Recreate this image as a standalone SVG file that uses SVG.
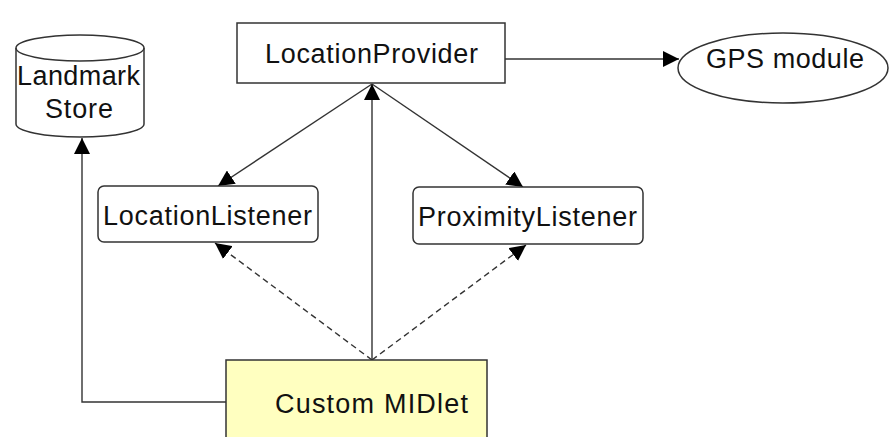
<svg xmlns="http://www.w3.org/2000/svg" width="890" height="437" viewBox="0 0 890 437">
<style>
.box{fill:#fff;stroke:#333;stroke-width:1.5}
.lbl{font-family:"Liberation Sans",Arial,sans-serif;font-size:27px;fill:#111;text-anchor:start}
.ln{fill:none;stroke:#333;stroke-width:1.4}
.dash{stroke-dasharray:6 4}
</style>
<defs>
<marker id="ah" markerUnits="userSpaceOnUse" markerWidth="17" markerHeight="16" refX="16" refY="8" orient="auto">
<path d="M0,0 L16,8 L0,16 Z" fill="#000"/>
</marker>
</defs>
<rect width="890" height="437" fill="#fff"/>
<g id="connectors">
<path class="ln" d="M505,59 H679" marker-end="url(#ah)"/>
<path class="ln" d="M372,84 L218,186" marker-end="url(#ah)"/>
<path class="ln" d="M372,84 L523,187" marker-end="url(#ah)"/>
<path class="ln" d="M372,360 V84" marker-end="url(#ah)"/>
<path class="ln dash" d="M372,360 L215,243" marker-end="url(#ah)"/>
<path class="ln dash" d="M372,360 L526,245" marker-end="url(#ah)"/>
<path class="ln" d="M226,402 H82 V138" marker-end="url(#ah)"/>
</g>
<g id="landmark-store">
<path class="box" d="M16,48 V124 A64,13 0 0 0 144,124 V48 A64,13 0 0 0 16,48 Z"/>
<path class="ln" d="M16,48 A64,13 0 0 0 144,48"/>
<text class="lbl" x="17" y="85" textLength="123" lengthAdjust="spacing">Landmark</text>
<text class="lbl" x="45" y="118" textLength="68" lengthAdjust="spacing">Store</text>
</g>
<g id="location-provider">
<rect class="box" x="237" y="23" width="268" height="60"/>
<text class="lbl" x="265" y="63" textLength="213" lengthAdjust="spacing">LocationProvider</text>
</g>
<g id="gps-module">
<ellipse class="box" cx="783" cy="68" rx="105" ry="35"/>
<text class="lbl" x="706" y="68" textLength="158" lengthAdjust="spacing">GPS module</text>
</g>
<g id="location-listener">
<rect class="box" x="98" y="186" width="220" height="56" rx="6"/>
<text class="lbl" x="103" y="225" textLength="209" lengthAdjust="spacing">LocationListener</text>
</g>
<g id="proximity-listener">
<rect class="box" x="413" y="187" width="230" height="57" rx="6"/>
<text class="lbl" x="418" y="226" textLength="219" lengthAdjust="spacing">ProximityListener</text>
</g>
<g id="custom-midlet">
<rect x="226" y="360" width="261" height="90" fill="#ffffc0" stroke="#333" stroke-width="1.5"/>
<text class="lbl" x="275" y="413" textLength="193" lengthAdjust="spacing">Custom MIDlet</text>
</g>
</svg>
